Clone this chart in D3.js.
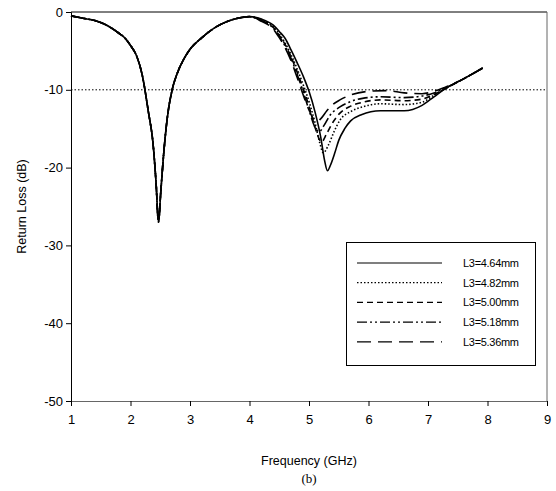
<!DOCTYPE html>
<html>
<head>
<meta charset="utf-8">
<script src="https://cdn.jsdelivr.net/npm/d3@7"></script>
<style>
body { margin: 0; background: #fff; }
svg { display: block; font-family: "Liberation Sans", Arial, sans-serif; }
.tick text { font-size: 13px; fill: #000; }
.axis-label { font-size: 12.5px; fill: #000; }
</style>
</head>
<body>
<svg width="556" height="491"></svg>
<script>
// first band is common to all five lengths
const lowBand = [
  [1.0, -0.5], [1.2, -0.8], [1.4, -1.1], [1.6, -1.7], [1.8, -2.7], [1.9, -3.3],
  [2.0, -4.3], [2.1, -5.6], [2.2, -8.2], [2.3, -12.8], [2.38, -17], [2.43, -22],
  [2.47, -27], [2.51, -23], [2.56, -18], [2.62, -13.5], [2.7, -10], [2.78, -8.0],
  [2.9, -6.0], [3.0, -4.8], [3.2, -3.3], [3.4, -2.1], [3.6, -1.3], [3.8, -0.8]
];

const band464 = [
  [4.0, -0.6], [4.2, -0.9], [4.4, -1.7], [4.5, -2.5], [4.6, -3.4], [4.7, -4.9],
  [4.8, -6.5], [4.9, -8.2], [5.0, -10.2], [5.1, -12.8], [5.2, -16.2], [5.26, -19],
  [5.31, -20.4], [5.36, -19.7], [5.43, -18.2], [5.5, -16.5], [5.6, -15.0],
  [5.7, -14.0], [5.88, -13.2], [6.2, -12.7], [6.6, -12.7], [6.9, -12.0],
  [7.1, -10.9], [7.28, -9.9], [7.62, -8.5], [7.92, -7.2]
];
const band482 = [
  [4.0, -0.6], [4.2, -1.0], [4.4, -1.9], [4.5, -2.8], [4.6, -4.0], [4.7, -5.5],
  [4.8, -7.3], [4.9, -9.3], [5.0, -11.5], [5.1, -14.2], [5.18, -16.8], [5.24, -18.1],
  [5.32, -17.2], [5.42, -15.4], [5.52, -13.9], [5.7, -12.8], [5.9, -12.2],
  [6.2, -11.8], [6.6, -11.9], [6.9, -11.6], [7.1, -10.7], [7.28, -9.9],
  [7.62, -8.5], [7.92, -7.2]
];
const band500 = [
  [4.0, -0.6], [4.2, -1.1], [4.4, -2.0], [4.5, -3.0], [4.6, -4.2], [4.7, -5.8],
  [4.8, -7.7], [4.9, -9.8], [5.0, -12.1], [5.1, -14.8], [5.21, -16.7], [5.3, -15.6],
  [5.4, -14.2], [5.52, -13.0], [5.7, -12.1], [5.9, -11.6], [6.2, -11.3],
  [6.6, -11.4], [6.9, -11.2], [7.1, -10.6], [7.28, -9.9], [7.62, -8.5], [7.92, -7.2]
];
const band518 = [
  [4.0, -0.6], [4.2, -1.1], [4.4, -2.1], [4.5, -3.1], [4.6, -4.4], [4.7, -6.0],
  [4.8, -8.0], [4.9, -10.2], [5.0, -12.6], [5.1, -14.8], [5.17, -15.4], [5.25, -14.6],
  [5.35, -13.3], [5.52, -12.2], [5.7, -11.5], [5.9, -11.1], [6.2, -10.9],
  [6.6, -11.0], [6.9, -10.8], [7.1, -10.4], [7.28, -9.8], [7.62, -8.5], [7.92, -7.2]
];
const band536 = [
  [4.0, -0.6], [4.2, -1.2], [4.4, -2.2], [4.5, -3.3], [4.6, -4.6], [4.7, -6.3],
  [4.8, -8.4], [4.9, -10.6], [5.0, -12.6], [5.08, -13.8], [5.13, -14.1], [5.2, -13.7],
  [5.3, -12.7], [5.4, -11.9], [5.52, -11.3], [5.69, -10.7], [6.0, -10.2],
  [6.3, -10.1], [6.6, -10.4], [6.9, -10.5], [7.1, -10.2], [7.28, -9.7],
  [7.62, -8.5], [7.92, -7.2]
];

const seriesNames = ['L3=4.64mm', 'L3=4.82mm', 'L3=5.00mm', 'L3=5.18mm', 'L3=5.36mm'];
const seriesBands = [band464, band482, band500, band518, band536];
const dashes = ['none', '1.5,2', '6,4', '10,3,2,3,2,3', '14,7'];

const xTicks = [1, 2, 3, 4, 5, 6, 7, 8, 9];
const yTicks = [0, -10, -20, -30, -40, -50];
const refLevel = -10;

const svg = d3.select('svg');

const xScale = d3.scaleLinear().domain([1, 9]).range([71, 547]);
const yScale = d3.scaleLinear().domain([0, -50]).range([12, 401]);

// frame top + right
svg.append('line')
  .attr('x1', xScale(1)).attr('x2', xScale(9))
  .attr('y1', yScale(0)).attr('y2', yScale(0))
  .attr('stroke', '#000');
svg.append('line')
  .attr('x1', xScale(9)).attr('x2', xScale(9))
  .attr('y1', yScale(0)).attr('y2', yScale(-50))
  .attr('stroke', '#666');

const xAxisG = svg.append('g')
  .attr('transform', `translate(0, ${yScale(-50)})`)
  .call(d3.axisBottom(xScale).tickValues(xTicks).tickFormat(d => String(d))
    .tickSizeOuter(0).tickSize(5).tickPadding(9));
xAxisG.select('.domain').attr('stroke', '#666');

svg.append('g')
  .attr('transform', `translate(${xScale(1)}, 0)`)
  .call(d3.axisLeft(yScale).tickValues(yTicks).tickFormat(d => String(d))
    .tickSizeOuter(0).tickSize(5).tickPadding(3));

svg.append('text')
  .attr('class', 'axis-label')
  .attr('transform', `translate(26, ${yScale(-25)}) rotate(-90)`)
  .attr('text-anchor', 'middle')
  .text('Return Loss (dB)');

svg.append('text')
  .attr('class', 'axis-label')
  .attr('x', xScale(5))
  .attr('y', 465)
  .attr('text-anchor', 'middle')
  .text('Frequency (GHz)');

svg.append('text')
  .attr('x', xScale(5))
  .attr('y', 483)
  .attr('text-anchor', 'middle')
  .style('font-family', '"Liberation Serif", "Times New Roman", serif')
  .style('font-size', '13px')
  .text('(b)');

// -10 dB reference
svg.append('line')
  .attr('x1', xScale(1)).attr('x2', xScale(9))
  .attr('y1', yScale(refLevel)).attr('y2', yScale(refLevel))
  .attr('stroke', '#000')
  .attr('stroke-dasharray', '1.5,2');

const lineGen = d3.line()
  .x(d => xScale(d[0]))
  .y(d => yScale(d[1]))
  .curve(d3.curveMonotoneX);

const g = svg.append('g');
seriesBands.forEach((band, i) => {
  g.append('path')
    .attr('d', lineGen(lowBand.concat(band)))
    .attr('fill', 'none')
    .attr('stroke', '#000')
    .attr('stroke-width', 1.6)
    .attr('stroke-dasharray', dashes[i]);
});

// legend
const legend = svg.append('g');
legend.append('rect')
  .attr('x', 346.5).attr('y', 242.5)
  .attr('width', 189).attr('height', 123)
  .attr('fill', '#fff')
  .attr('stroke', '#000');

seriesNames.forEach((name, i) => {
  const ly = 263 + i * 19.7;
  legend.append('line')
    .attr('x1', 357).attr('x2', 442)
    .attr('y1', ly).attr('y2', ly)
    .attr('stroke', '#000')
    .attr('stroke-width', 1.2)
    .attr('stroke-dasharray', dashes[i]);
  legend.append('text')
    .attr('x', 463)
    .attr('y', ly + 4)
    .style('font-size', '11px')
    .style('letter-spacing', '-0.3px')
    .text(name);
});
</script>
</body>
</html>
